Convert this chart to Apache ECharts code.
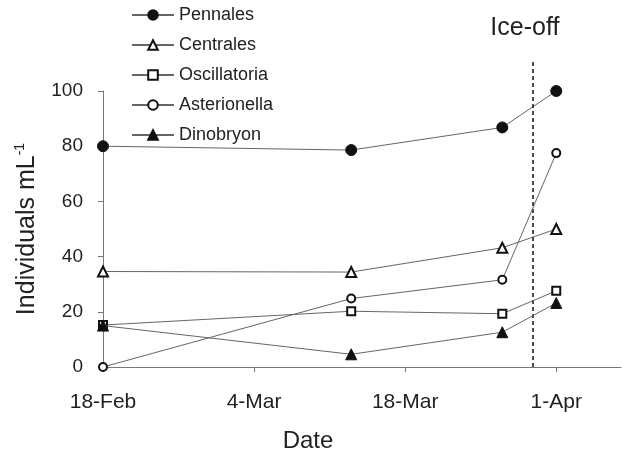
<!DOCTYPE html>
<html>
<head>
<meta charset="utf-8">
<script src="https://cdn.jsdelivr.net/npm/echarts@6/dist/echarts.min.js"></script>
<style>
html,body{margin:0;padding:0;background:#fff;}
#chart{width:622px;height:452px;}
</style>
</head>
<body>
<div id="chart"></div>
<script>
// sampling dates (year is arbitrary, non-leap)
var sampleDates = ['2001-02-18', '2001-03-13', '2001-03-27', '2001-04-01'];
var iceOffDate = '2001-03-29T20:00:00Z';
var startDate = '2001-02-18';

var tickLabels = ['18-Feb', '4-Mar', '18-Mar', '1-Apr'];
var tickDays = [0, 14, 28, 42];

var pennales     = [80, 78.6, 86.8, 100];
var centrales    = [34.6, 34.4, 43.2, 50];
var oscillatoria = [15.2, 20.2, 19.3, 27.6];
var asterionella = [0, 24.8, 31.6, 77.5];
var dinobryon    = [15, 4.6, 12.6, 23.2];

var FONT = '"Liberation Sans", Arial, sans-serif';
var ICE_TOP = 111.6;   // dashed line runs a bit above the 100 line

function dayOf(d){
    var t0 = new Date(startDate + 'T00:00:00Z').getTime();
    var t = new Date(d.length > 10 ? d : d + 'T00:00:00Z').getTime();
    return (t - t0) / 86400000;
}

function pairs(vals){
    var out = [];
    for (var i = 0; i < vals.length; i++) {
        out.push([dayOf(sampleDates[i]), vals[i]]);
    }
    return out;
}

var seriesDefs = [
    {name:'Pennales', data:pennales, symbol:'circle', size:11},
    {name:'Centrales', data:centrales, symbol:'emptyTriangle', size:10},
    {name:'Oscillatoria', data:oscillatoria, symbol:'emptyRect', size:8},
    {name:'Asterionella', data:asterionella, symbol:'emptyCircle', size:8},
    {name:'Dinobryon', data:dinobryon, symbol:'triangle', size:11}
];

var series = [];
for (var j = 0; j < seriesDefs.length; j++) {
    var s = seriesDefs[j];
    series.push({
        name: s.name,
        type: 'line',
        symbol: s.symbol,
        symbolSize: s.size,
        showAllSymbol: true,
        clip: false,
        lineStyle: {color:'#666', width:1},
        itemStyle: {color:'#111', borderColor:'#111', borderWidth:1},
        emphasis: {disabled:true},
        z: 3 + j,
        data: pairs(s.data)
    });
}

// ice-off marker lives in a second, invisible grid that reaches above 100
var iceX = dayOf(iceOffDate);
series.push({
    name: 'iceoff',
    type: 'line',
    xAxisIndex: 1,
    yAxisIndex: 1,
    data: [],
    clip: false,
    markLine: {
        silent: true,
        symbol: ['none', 'none'],
        lineStyle: {color:'#111', type:[4, 3], width:1.5},
        label: {
            show: true,
            position: 'end',
            formatter: 'Ice-off',
            fontFamily: FONT,
            fontSize: 25,
            color: '#222',
            distance: 18,
            padding: [0, 16, 0, 0]
        },
        data: [[{coord:[iceX, 0]}, {coord:[iceX, ICE_TOP]}]]
    }
});

var dom = document.getElementById('chart');
var myChart = echarts.init(dom);
var option = {
    animation: false,
    backgroundColor: '#fff',
    legend: {
        orient: 'vertical',
        left: 126,
        top: 1,
        itemWidth: 42,
        itemHeight: 12,
        itemGap: 12,
        textStyle: {fontFamily: FONT, fontSize: 18, color:'#222'},
        data: ['Pennales', 'Centrales', 'Oscillatoria', 'Asterionella', 'Dinobryon']
    },
    grid: [
        {left:103, right:1, top:91, bottom:85, outerBoundsMode:'none'},
        {left:103, right:1, top:91 - 276 * (ICE_TOP - 100) / 100, bottom:85, outerBoundsMode:'none'}
    ],
    xAxis: [{
        type: 'value',
        min: 0,
        max: 48,
        interval: 14,
        name: 'Date',
        nameLocation: 'middle',
        nameGap: 62,
        nameTextStyle: {fontFamily: FONT, fontSize: 24, color:'#222', padding:[0, 108, 0, 0]},
        axisLine: {lineStyle:{color:'#777', width:1}},
        axisTick: {length:5, lineStyle:{color:'#777'}, customValues: tickDays},
        axisLabel: {
            customValues: tickDays,
            margin: 25,
            fontFamily: FONT,
            fontSize: 21,
            color: '#222',
            formatter: function(v){
                var k = tickDays.indexOf(v);
                return k >= 0 ? tickLabels[k] : '';
            }
        },
        splitLine: {show:false}
    }, {
        type: 'value',
        gridIndex: 1,
        min: 0,
        max: 48,
        show: false
    }],
    yAxis: [{
        type: 'value',
        min: 0,
        max: 100,
        interval: 20,
        name: '{a|Individuals mL}{b|-1}',
        nameLocation: 'middle',
        nameGap: 62,
        nameTextStyle: {
            color:'#222',
            rich: {
                a: {fontFamily: FONT, fontSize: 25, color:'#222', lineHeight: 28},
                b: {fontFamily: FONT, fontSize: 14, color:'#222', verticalAlign:'top', lineHeight: 28}
            }
        },
        axisLine: {show:true, lineStyle:{color:'#777', width:1}},
        axisTick: {show:true, length:5, lineStyle:{color:'#777'}},
        axisLabel: {margin: 20, fontFamily: FONT, fontSize: 19, color:'#222'},
        splitLine: {show:false}
    }, {
        type: 'value',
        gridIndex: 1,
        min: 0,
        max: ICE_TOP,
        show: false
    }],
    series: series
};
myChart.setOption(option);
</script>
</body>
</html>
